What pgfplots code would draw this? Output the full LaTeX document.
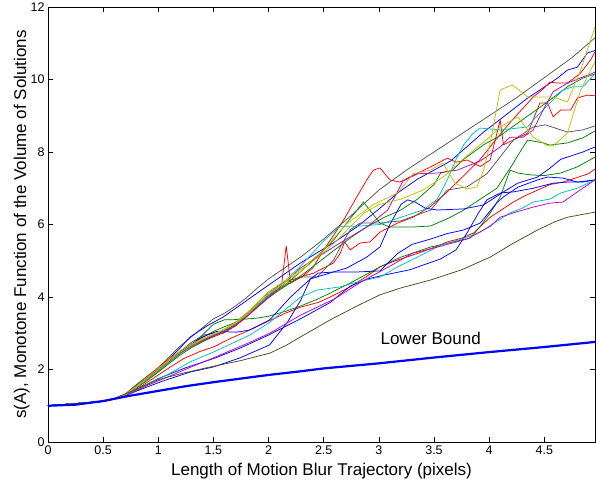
\documentclass[border=0pt]{standalone}
\usepackage{fontspec}
\setmainfont{Liberation Sans}
\usepackage{pgfplots}
\pgfplotsset{compat=1.18}

\definecolor{mb}{rgb}{0,0,1}
\definecolor{mg}{rgb}{0,0.5,0}
\definecolor{mr}{rgb}{1,0,0}
\definecolor{mc}{rgb}{0,0.75,0.75}
\definecolor{mm}{rgb}{0.75,0,0.75}
\definecolor{my}{rgb}{0.75,0.75,0}
\definecolor{mk}{rgb}{0.33,0.33,0.33}
\definecolor{mo}{rgb}{0.3,0.3,0.1}

\begin{document}
\begin{tikzpicture}
\begin{axis}[
    scale only axis,
    width=547pt, height=435pt,
    xmin=0, xmax=4.96,
    ymin=0, ymax=12,
    xtick={0,0.5,1,1.5,2,2.5,3,3.5,4,4.5},
    ytick={0,2,4,6,8,10,12},
    tick align=inside,
    major tick length=5pt,
    axis line style={line width=0.8pt},
    tick style={line width=0.6pt, black},
    /pgf/number format/assume math mode=true,
    tick label style={font=\fontsize{12.5}{14}\selectfont},
    label style={font=\fontsize{17}{20}\selectfont},
    xlabel={Length of Motion Blur Trajectory (pixels)},
    ylabel={s(A), Monotone Function of the Volume of Solutions},
    xlabel style={at={(axis description cs:0.5,-0.0759)}, anchor=base},
    ylabel style={at={(axis description cs:-0.0402,0.5)}, anchor=base},
    every axis plot/.append style={line width=0.75pt, line join=round},
]

% grey, top
\addplot[mk] coordinates {(0,1)(0.5,1.12)(0.6,1.19)(0.7,1.32)(0.8,1.58)(0.9,1.82)(1.0,2.05)(1.1,2.35)(1.2,2.65)(1.3,2.9)(1.4,3.15)(1.5,3.4)(1.6,3.55)(1.7,3.75)(1.8,3.98)(1.9,4.25)(2.0,4.5)(2.29,5.1)(2.5,5.6)(2.75,6.25)(3.0,6.95)(3.25,7.5)(3.5,8.0)(3.75,8.5)(4.0,9.0)(4.25,9.5)(4.5,10.05)(4.75,10.6)(4.96,11.15)};
% blue 1
\addplot[mb] coordinates {(0,1)(0.5,1.12)(0.6,1.19)(0.7,1.3)(0.8,1.52)(0.9,1.77)(1.0,2.02)(1.1,2.3)(1.2,2.6)(1.29,2.9)(1.44,3.2)(1.59,3.45)(1.8,3.9)(2.01,4.35)(2.29,4.94)(2.59,5.5)(2.8,5.93)(3.01,6.45)(3.17,6.87)(3.35,7.25)(3.53,7.55)(3.65,7.75)(3.95,8.55)(4.13,8.97)(4.35,9.49)(4.49,9.77)(4.62,10.04)(4.71,10.26)(4.8,10.34)(4.89,10.73)(4.96,10.8)};
% red with spike
\addplot[mr] coordinates {(0,1)(0.5,1.12)(0.6,1.19)(0.7,1.32)(0.8,1.55)(0.9,1.8)(1.0,2.05)(1.1,2.3)(1.2,2.5)(1.3,2.68)(1.4,2.82)(1.5,2.95)(1.6,3.1)(1.7,3.3)(1.8,3.55)(1.9,3.8)(2.0,4.05)(2.08,4.28)(2.12,4.38)(2.16,5.41)(2.2,4.38)(2.29,4.55)(2.41,4.66)(2.5,4.8)(2.59,4.94)(2.65,5.21)(2.69,5.52)(2.74,5.3)(2.83,5.49)(2.92,5.52)(3.01,5.79)(3.17,6.04)(3.31,6.2)(3.47,6.5)(3.62,6.9)(3.77,7.35)(3.92,7.8)(4.05,8.3)(4.2,8.85)(4.35,9.35)(4.4,9.52)(4.48,9.71)(4.55,9.93)(4.62,9.9)(4.71,9.9)(4.83,10.18)(4.92,10.54)(4.96,10.76)};
% red, early high
\addplot[mr] coordinates {(0,1)(0.5,1.12)(0.6,1.19)(0.7,1.3)(0.8,1.5)(0.9,1.74)(1.0,1.98)(1.1,2.22)(1.2,2.45)(1.3,2.63)(1.4,2.78)(1.5,2.9)(1.6,3.02)(1.7,3.2)(1.8,3.45)(1.9,3.72)(2.0,3.98)(2.1,4.2)(2.2,4.4)(2.3,4.55)(2.4,4.8)(2.5,5.3)(2.6,5.75)(2.68,6.12)(2.8,6.76)(2.89,7.23)(2.95,7.5)(3.01,7.56)(3.1,7.23)(3.19,7.17)(3.28,7.31)(3.47,7.59)(3.62,7.83)(3.7,7.72)(3.8,7.78)(3.92,7.6)(4.01,7.78)(4.1,8.88)(4.13,8.2)(4.26,8.39)(4.35,8.52)(4.46,9.35)(4.53,9.35)(4.58,8.97)(4.65,9.16)(4.74,9.16)(4.8,9.49)(4.89,9.57)(4.96,9.55)};
% red, lower
\addplot[mr] coordinates {(0,1)(0.5,1.12)(0.6,1.19)(0.7,1.29)(0.8,1.45)(0.9,1.65)(1.0,1.85)(1.1,2.05)(1.23,2.3)(1.38,2.5)(1.5,2.62)(1.65,2.85)(1.8,3.05)(2.01,3.35)(2.15,3.55)(2.29,3.72)(2.45,3.85)(2.56,4.0)(2.74,4.28)(2.88,4.55)(3.01,4.83)(3.15,5.0)(3.31,5.16)(3.47,5.33)(3.62,5.52)(3.75,5.62)(3.86,5.77)(4.01,6.2)(4.12,6.42)(4.22,6.62)(4.33,6.8)(4.44,6.95)(4.55,7.1)(4.67,7.17)(4.8,7.3)(4.9,7.4)(4.96,7.53)};
% green 1
\addplot[mg] coordinates {(0,1)(0.5,1.12)(0.6,1.19)(0.7,1.31)(0.8,1.53)(0.9,1.78)(1.0,2.0)(1.1,2.25)(1.2,2.5)(1.3,2.7)(1.4,2.88)(1.5,3.05)(1.6,3.18)(1.7,3.3)(1.8,3.5)(1.9,3.75)(2.0,4.0)(2.1,4.2)(2.2,4.4)(2.3,4.6)(2.45,4.95)(2.6,5.3)(2.75,5.65)(2.9,5.95)(3.05,6.2)(3.2,6.4)(3.35,6.7)(3.5,7.1)(3.56,7.42)(3.67,7.5)(3.77,7.8)(3.95,8.2)(4.1,8.45)(4.26,8.8)(4.4,9.1)(4.55,9.43)(4.71,9.8)(4.85,10.04)(4.96,10.15)};
% green with peak near 2.9
\addplot[mg] coordinates {(0,1)(0.5,1.12)(0.6,1.19)(0.7,1.3)(0.8,1.48)(0.9,1.7)(1.0,1.93)(1.1,2.17)(1.2,2.4)(1.3,2.6)(1.4,2.76)(1.5,2.92)(1.6,3.07)(1.7,3.25)(1.8,3.5)(1.98,4.0)(2.17,4.38)(2.38,4.94)(2.59,5.57)(2.68,5.93)(2.86,6.62)(3.01,6.04)(3.1,5.93)(3.31,5.93)(3.47,5.96)(3.65,6.2)(3.77,6.4)(3.92,6.7)(4.07,7.0)(4.2,7.6)(4.3,8.1)(4.35,8.33)(4.49,8.25)(4.55,8.19)(4.71,8.25)(4.85,8.39)(4.96,8.58)};
% green, lower
\addplot[mg] coordinates {(0,1)(0.5,1.12)(0.6,1.19)(0.7,1.3)(0.8,1.5)(0.9,1.72)(1.0,1.95)(1.1,2.2)(1.2,2.45)(1.3,2.68)(1.4,2.95)(1.5,3.25)(1.6,3.37)(1.75,3.38)(1.9,3.42)(2.0,3.47)(2.15,3.6)(2.29,3.75)(2.45,3.95)(2.56,4.11)(2.75,4.4)(3.01,4.83)(3.2,5.1)(3.47,5.38)(3.65,5.5)(3.83,5.63)(3.92,5.95)(4.01,6.32)(4.1,6.76)(4.19,7.5)(4.26,7.42)(4.37,7.37)(4.5,7.35)(4.65,7.42)(4.8,7.59)(4.96,7.86)};
% grey 2
\addplot[mk] coordinates {(0,1)(0.5,1.12)(0.6,1.19)(0.7,1.31)(0.8,1.55)(0.9,1.78)(1.0,2.0)(1.2,2.5)(1.3,2.75)(1.41,2.95)(1.5,3.0)(1.59,3.0)(1.74,3.31)(1.95,4.0)(2.13,4.4)(2.29,4.55)(2.44,4.55)(2.59,5.02)(2.65,5.38)(2.74,5.85)(2.83,6.04)(3.01,6.04)(3.2,6.1)(3.47,6.4)(3.62,6.95)(3.8,7.04)(3.98,7.4)(4.22,8.33)(4.4,8.69)(4.51,8.75)(4.71,8.55)(4.85,8.61)(4.96,8.72)};
% blue 2
\addplot[mb] coordinates {(0,1)(0.5,1.12)(0.6,1.19)(0.7,1.3)(0.8,1.55)(0.9,1.78)(1.0,2.0)(1.25,2.6)(1.4,2.9)(1.53,3.05)(1.71,3.03)(1.83,3.09)(2.01,3.37)(2.2,4.0)(2.38,4.5)(2.71,4.8)(2.89,5.1)(3.01,5.38)(3.1,6.0)(3.2,6.55)(3.26,6.68)(3.33,6.62)(3.42,6.45)(3.53,6.4)(3.77,6.43)(3.95,6.54)(4.13,6.9)(4.26,7.14)(4.44,7.31)(4.55,7.55)(4.65,7.8)(4.85,8.0)(4.96,8.14)};
% blue 3
\addplot[mb] coordinates {(0,1)(0.5,1.12)(0.6,1.19)(0.7,1.28)(0.8,1.4)(0.9,1.52)(1.04,1.68)(1.29,1.93)(1.5,2.07)(1.74,2.32)(2.01,2.68)(2.17,3.3)(2.29,3.9)(2.38,4.5)(2.45,4.66)(2.59,4.69)(2.8,4.69)(3.01,4.72)(3.17,5.2)(3.3,5.45)(3.47,5.6)(3.62,5.75)(3.77,5.85)(3.92,6.04)(4.07,6.6)(4.13,6.76)(4.26,7.03)(4.44,7.23)(4.53,7.31)(4.67,7.28)(4.8,7.17)(4.96,7.23)};
% blue 4
\addplot[mb] coordinates {(0,1)(0.5,1.12)(0.6,1.19)(0.7,1.29)(0.8,1.44)(1.0,1.75)(1.25,2.05)(1.5,2.3)(1.75,2.6)(2.0,2.95)(2.29,3.4)(2.56,3.85)(2.74,4.3)(2.9,4.5)(3.04,4.6)(3.28,4.75)(3.56,5.05)(3.7,5.3)(3.8,5.77)(3.9,6.3)(3.98,6.68)(4.1,6.87)(4.22,6.9)(4.4,7.0)(4.58,7.14)(4.71,7.17)(4.85,7.17)(4.96,7.23)};
% cyan 1
\addplot[mc] coordinates {(0,1)(0.5,1.12)(0.6,1.19)(0.7,1.3)(0.8,1.5)(0.9,1.73)(1.0,1.96)(1.1,2.2)(1.2,2.44)(1.3,2.64)(1.4,2.8)(1.5,2.95)(1.6,3.1)(1.7,3.28)(1.8,3.52)(1.9,3.78)(2.0,4.05)(2.15,4.45)(2.29,4.85)(2.5,5.55)(2.65,5.95)(2.8,5.95)(3.01,6.0)(3.2,6.2)(3.4,6.4)(3.53,6.7)(3.62,7.23)(3.7,7.8)(3.77,8.2)(3.85,8.5)(3.92,8.66)(4.1,8.61)(4.26,8.66)(4.35,8.69)(4.4,8.88)(4.55,9.35)(4.67,9.71)(4.76,9.8)(4.85,9.8)(4.96,10.15)};
% cyan 2
\addplot[mc] coordinates {(0,1)(0.5,1.12)(0.6,1.19)(0.7,1.29)(0.8,1.43)(0.9,1.6)(1.08,1.85)(1.29,2.21)(1.5,2.48)(1.83,2.95)(2.01,3.3)(2.15,3.65)(2.29,4.0)(2.44,4.19)(2.65,4.28)(2.8,4.41)(3.01,4.55)(3.17,4.83)(3.35,5.1)(3.56,5.43)(3.75,5.6)(3.92,5.79)(4.05,6.05)(4.19,6.32)(4.3,6.45)(4.4,6.62)(4.55,6.7)(4.65,6.87)(4.8,7.0)(4.96,7.23)};
% magenta 1
\addplot[mm] coordinates {(0,1)(0.5,1.12)(0.6,1.19)(0.7,1.31)(0.8,1.52)(0.9,1.75)(1.0,1.99)(1.1,2.23)(1.2,2.46)(1.3,2.65)(1.4,2.8)(1.5,2.93)(1.6,3.05)(1.7,3.22)(1.8,3.46)(1.9,3.72)(2.0,4.0)(2.15,4.4)(2.29,4.8)(2.6,5.4)(2.9,5.95)(3.08,6.4)(3.22,7.2)(3.35,7.4)(3.53,7.42)(3.71,7.5)(3.92,7.75)(4.1,8.14)(4.19,8.41)(4.31,8.41)(4.4,8.61)(4.49,9.16)(4.58,9.66)(4.71,9.9)(4.85,10.07)(4.96,10.2)};
% magenta 2
\addplot[mm] coordinates {(0,1)(0.5,1.12)(0.6,1.19)(0.7,1.28)(0.8,1.41)(0.9,1.56)(1.13,1.85)(1.32,2.1)(1.5,2.32)(1.83,2.75)(2.01,3.0)(2.29,3.5)(2.6,3.95)(2.83,4.4)(3.1,4.85)(3.3,5.2)(3.56,5.4)(3.8,5.6)(4.01,5.95)(4.1,6.2)(4.25,6.35)(4.4,6.48)(4.55,6.59)(4.67,6.62)(4.8,6.9)(4.96,7.23)};
% yellow 1
\addplot[my] coordinates {(0,1)(0.5,1.12)(0.6,1.19)(0.7,1.31)(0.8,1.54)(0.9,1.79)(1.0,2.03)(1.1,2.28)(1.2,2.52)(1.3,2.7)(1.4,2.85)(1.5,2.98)(1.6,3.12)(1.7,3.3)(1.8,3.55)(1.9,3.85)(2.0,4.15)(2.15,4.45)(2.29,4.75)(2.5,5.3)(2.7,6.0)(2.95,6.55)(3.17,6.87)(3.31,7.4)(3.47,7.5)(3.58,7.7)(3.69,7.14)(3.8,6.98)(3.89,7.04)(3.95,7.5)(4.01,8.25)(4.1,9.71)(4.21,9.85)(4.35,9.52)(4.58,9.52)(4.71,9.38)(4.83,10.26)(4.96,11.45)};
% yellow 2
\addplot[my] coordinates {(0,1)(0.5,1.12)(0.6,1.19)(0.7,1.3)(0.8,1.51)(0.9,1.75)(1.0,1.99)(1.1,2.24)(1.2,2.48)(1.3,2.67)(1.4,2.83)(1.5,2.97)(1.6,3.1)(1.7,3.27)(1.8,3.5)(1.9,3.8)(2.0,4.1)(2.15,4.4)(2.29,4.7)(2.6,5.5)(2.86,6.3)(3.0,6.55)(3.2,6.7)(3.4,6.95)(3.6,7.35)(3.8,7.9)(4.0,8.4)(4.1,8.69)(4.26,8.97)(4.4,8.41)(4.53,8.17)(4.58,8.17)(4.71,8.52)(4.83,9.71)(4.96,10.5)};
% dark olive, lowest
\addplot[mo] coordinates {(0,1)(0.5,1.12)(0.6,1.2)(0.8,1.45)(1.0,1.72)(1.2,1.88)(1.44,2.05)(1.74,2.24)(2.01,2.45)(2.15,2.65)(2.29,2.9)(2.56,3.37)(2.8,3.75)(3.01,4.06)(3.2,4.25)(3.47,4.47)(3.75,4.75)(4.01,5.1)(4.2,5.45)(4.44,5.85)(4.6,6.08)(4.71,6.2)(4.85,6.28)(4.96,6.34)};
% lower bound
\addplot[mb, line width=2.2pt] coordinates {(0,1)(0.25,1.03)(0.5,1.13)(0.75,1.28)(1,1.41)(1.25,1.54)(1.5,1.65)(1.75,1.75)(2,1.85)(2.29,1.95)(2.5,2.03)(3,2.17)(3.5,2.33)(4,2.48)(4.5,2.62)(4.96,2.76)};

\node[font=\fontsize{17}{20}\selectfont] at (axis cs:3.47,2.87) {Lower Bound};
\end{axis}
\pgfresetboundingbox
\path[use as bounding box] ([xshift=-48pt,yshift=-38pt]current axis.south west) rectangle ([xshift=1pt,yshift=7pt]current axis.north east);
\end{tikzpicture}
\end{document}
